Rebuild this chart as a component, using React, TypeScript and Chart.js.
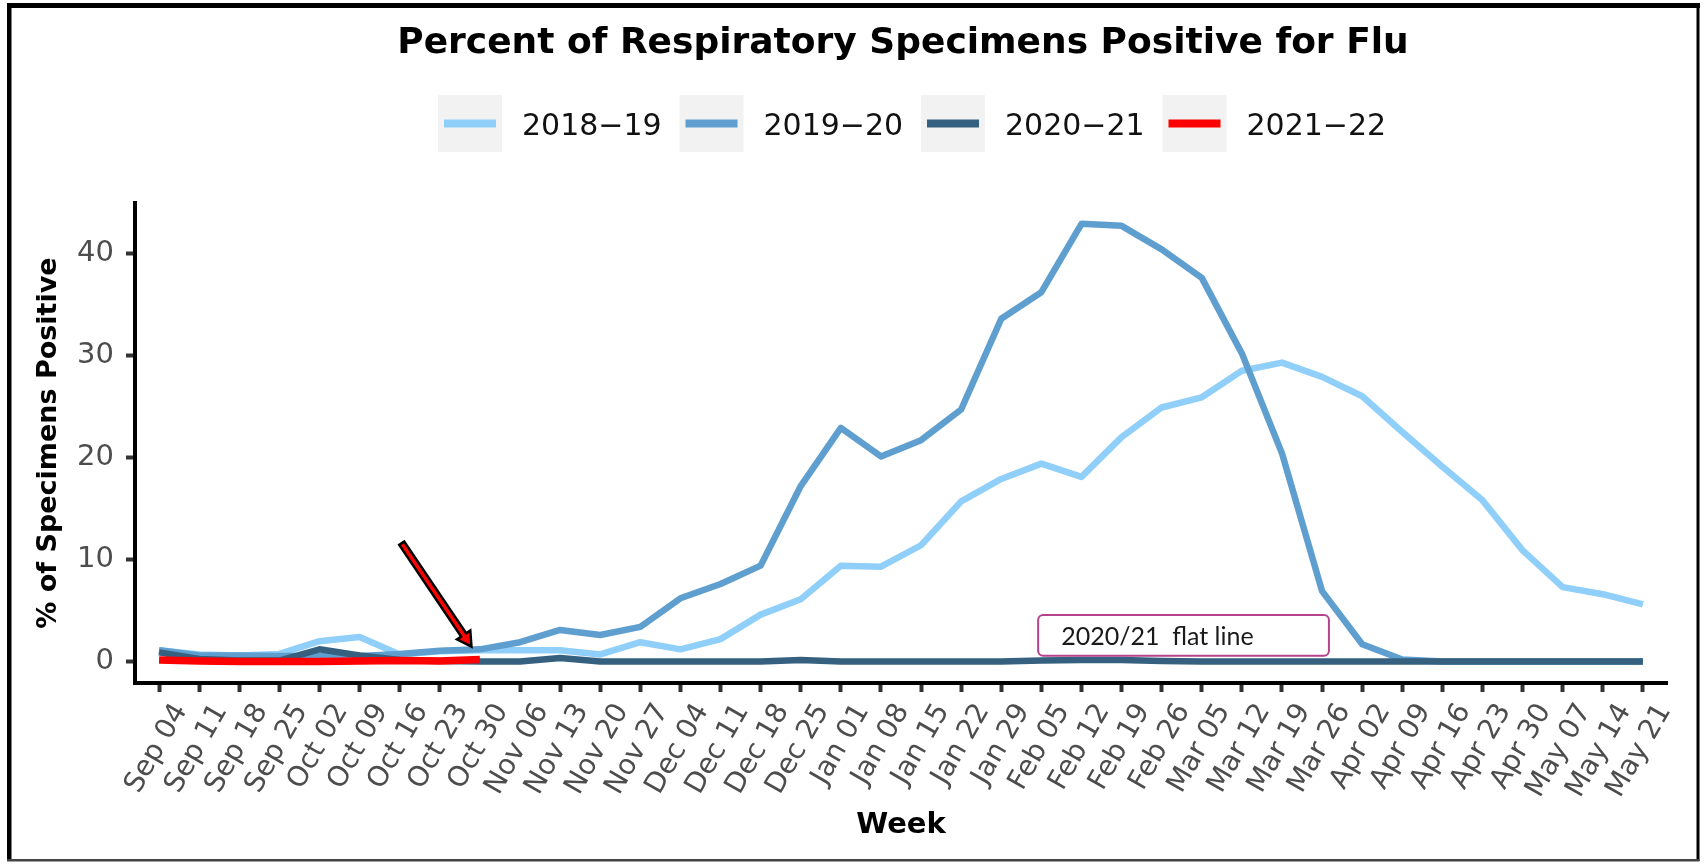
import React, { useEffect, useRef } from "react";
import { Chart, registerables } from "chart.js";

Chart.register(...registerables);

const TITLE = "Percent of Respiratory Specimens Positive for Flu";
const X_TITLE = "Week";
const Y_TITLE = "% of Specimens Positive";

const WEEKS = [
  "Sep 04", "Sep 11", "Sep 18", "Sep 25",
  "Oct 02", "Oct 09", "Oct 16", "Oct 23", "Oct 30",
  "Nov 06", "Nov 13", "Nov 20", "Nov 27",
  "Dec 04", "Dec 11", "Dec 18", "Dec 25",
  "Jan 01", "Jan 08", "Jan 15", "Jan 22", "Jan 29",
  "Feb 05", "Feb 12", "Feb 19", "Feb 26",
  "Mar 05", "Mar 12", "Mar 19", "Mar 26",
  "Apr 02", "Apr 09", "Apr 16", "Apr 23", "Apr 30",
  "May 07", "May 14", "May 21",
];

const Y_TICKS = [0, 10, 20, 30, 40];

const SEASONS = ["2018\u221219", "2019\u221220", "2020\u221221", "2021\u221222"];
const COLORS = ["#8FCFFA", "#5F9FCF", "#35607F", "#FF0000"];

const S2018_19 = [
  1.1, 0.7, 0.6, 0.75,
  2.0, 2.4, 0.7, 1.0, 1.1,
  1.1, 1.1, 0.7, 1.9,
  1.2, 2.2, 4.6, 6.1,
  9.4, 9.3, 11.4, 15.7, 17.9,
  19.4, 18.1, 22.0, 24.9,
  25.9, 28.5, 29.3, 27.9,
  26.0, 22.5, 19.1, 15.8, 10.9,
  7.3, 6.6, 5.6,
];

const S2019_20 = [
  1.1, 0.6, 0.6, 0.55,
  0.55, 0.55, 0.75, 1.05, 1.2,
  1.9, 3.1, 2.6, 3.4,
  6.2, 7.6, 9.4, 17.2,
  22.9, 20.1, 21.7, 24.7, 33.6,
  36.2, 42.9, 42.7, 40.4,
  37.6, 30.2, 20.4, 6.9,
  1.7, 0.2, 0, 0, 0,
  0, 0, 0,
];

const S2020_21 = [
  0.9, 0.25, 0.1, 0.1,
  1.2, 0.6, 0.15, 0.05, 0,
  0, 0.35, 0, 0,
  0, 0, 0, 0.15,
  0, 0, 0, 0, 0,
  0.1, 0.15, 0.15, 0.05,
  0, 0, 0, 0,
  0, 0, 0, 0, 0,
  0, 0, 0,
];

const S2021_22 = [0.15, 0.05, 0, 0, 0, 0.05, 0.1, 0.05, 0.2];

const SERIES = [S2018_19, S2019_20, S2020_21, S2021_22];
const LINE_WIDTHS = [6.5, 6.5, 6.5, 7.5];
const DRAW_ORDER = [3, 2, 1, 0];

// annotation anchors, in data units
const ARROW_FROM = { x: 6.05, y: 11.6 };
const ARROW_TO = { x: 7.79, y: 1.47 };
const NOTE_BOX = { x0: 21.92, x1: 29.17, y0: 4.57, y1: 0.56 };
const NOTE_TEXT = "2020/21  flat line";

const W = 1705;
const H = 864;

const overlayPlugin = {
  id: "overlay",
  beforeDraw(chart: any) {
    const ctx = chart.ctx;
    ctx.save();
    ctx.fillStyle = "#ffffff";
    ctx.fillRect(0, 0, chart.width, chart.height);
    ctx.restore();
  },
  afterDraw(chart: any) {
    const ctx: CanvasRenderingContext2D = chart.ctx;
    const xs = chart.scales.x;
    const ys = chart.scales.y;
    ctx.save();

    // Title
    ctx.fillStyle = "#000000";
    ctx.font = "bold 36px 'DejaVu Sans', sans-serif";
    ctx.textAlign = "center";
    ctx.textBaseline = "alphabetic";
    ctx.fillText(TITLE, 903, 53);

    // Legend
    ctx.textAlign = "left";
    ctx.font = "30px 'DejaVu Sans', sans-serif";
    SEASONS.forEach((name, k) => {
      const bx = 438 + k * 241.5;
      ctx.fillStyle = "#F2F2F2";
      ctx.fillRect(bx, 95, 64, 57);
      ctx.strokeStyle = COLORS[k];
      ctx.lineWidth = 8;
      ctx.lineCap = "butt";
      ctx.beginPath();
      ctx.moveTo(bx + 6, 123.5);
      ctx.lineTo(bx + 58, 123.5);
      ctx.stroke();
      ctx.fillStyle = "#111111";
      ctx.fillText(name, bx + 84, 135);
    });

    // Annotation box
    const bx0 = xs.getPixelForValue(NOTE_BOX.x0);
    const bx1 = xs.getPixelForValue(NOTE_BOX.x1);
    const by0 = ys.getPixelForValue(NOTE_BOX.y0);
    const by1 = ys.getPixelForValue(NOTE_BOX.y1);
    ctx.beginPath();
    (ctx as any).roundRect(bx0, by0, bx1 - bx0, by1 - by0, 5);
    ctx.fillStyle = "#ffffff";
    ctx.fill();
    ctx.strokeStyle = "#B4428C";
    ctx.lineWidth = 2;
    ctx.stroke();
    ctx.fillStyle = "#1a1a1a";
    ctx.font = "25px Lato, 'Open Sans', sans-serif";
    ctx.textBaseline = "alphabetic";
    ctx.fillText(NOTE_TEXT, bx0 + 23, by0 + 30.5);

    // Arrow
    const tx = xs.getPixelForValue(ARROW_FROM.x);
    const ty = ys.getPixelForValue(ARROW_FROM.y);
    const hx = xs.getPixelForValue(ARROW_TO.x);
    const hy = ys.getPixelForValue(ARROW_TO.y);
    const len = Math.hypot(hx - tx, hy - ty);
    const dx = (hx - tx) / len;
    const dy = (hy - ty) / len;
    const nx = -dy;
    const ny = dx;
    const hw = 3;
    const hh = 8;
    const hl = 14;
    const kx = hx - dx * hl;
    const ky = hy - dy * hl;
    ctx.beginPath();
    ctx.moveTo(tx + nx * hw, ty + ny * hw);
    ctx.lineTo(kx + nx * hw, ky + ny * hw);
    ctx.lineTo(kx + nx * hh, ky + ny * hh);
    ctx.lineTo(hx, hy);
    ctx.lineTo(kx - nx * hh, ky - ny * hh);
    ctx.lineTo(kx - nx * hw, ky - ny * hw);
    ctx.lineTo(tx - nx * hw, ty - ny * hw);
    ctx.closePath();
    ctx.fillStyle = "#FF0000";
    ctx.fill();
    ctx.strokeStyle = "#000000";
    ctx.lineWidth = 2.5;
    ctx.lineJoin = "miter";
    ctx.stroke();

    // Outer frame
    ctx.fillStyle = "#000000";
    ctx.fillRect(7, 3, 1693, 5);
    ctx.fillRect(7, 3, 4.5, 858);
    ctx.fillRect(1696.5, 3, 3, 858);
    ctx.fillStyle = "#444444";
    ctx.fillRect(7, 859, 1692.5, 2.5);

    ctx.restore();
  },
};

export default function App() {
  const canvasRef = useRef<HTMLCanvasElement | null>(null);

  useEffect(() => {
    if (!canvasRef.current) return;
    const chart = new Chart(canvasRef.current, {
      type: "line",
      data: {
        datasets: SERIES.map((vals, k) => ({
          label: SEASONS[k],
          data: vals.map((v, i) => ({ x: i, y: v })),
          borderColor: COLORS[k],
          backgroundColor: COLORS[k],
          borderWidth: LINE_WIDTHS[k],
          pointRadius: 0,
          tension: 0,
          fill: false,
          order: DRAW_ORDER[k],
          borderJoinStyle: "round" as const,
          borderCapStyle: "butt" as const,
        })),
      },
      options: {
        animation: false,
        responsive: false,
        devicePixelRatio: 1,
        layout: { padding: { top: 203, right: 38, bottom: 0, left: 0 } },
        plugins: {
          legend: { display: false },
          title: { display: false },
          tooltip: { enabled: false },
        },
        scales: {
          x: {
            type: "linear",
            min: -0.6,
            max: 37.6,
            afterBuildTicks: (s: any) => {
              s.ticks = WEEKS.map((_, i) => ({ value: i }));
            },
            afterFit: (s: any) => {
              s.height = 181;
            },
            grid: {
              display: true,
              drawOnChartArea: false,
              drawTicks: true,
              tickLength: 9,
              tickWidth: 4,
              tickColor: "#333333",
            },
            border: { display: true, color: "#000000", width: 4 },
            ticks: {
              autoSkip: false,
              minRotation: 60,
              maxRotation: 60,
              labelOffset: 22,
              padding: 6,
              color: "#4d4d4d",
              font: { family: "'DejaVu Sans', sans-serif", size: 28 },
              callback: (v: any) => WEEKS[Math.round(Number(v))] ?? "",
            },
            title: {
              display: true,
              text: X_TITLE,
              color: "#000000",
              font: { family: "'DejaVu Sans', sans-serif", size: 29, weight: "bold" },
              padding: { top: 0, bottom: 21 },
            },
          },
          y: {
            type: "linear",
            min: -2.1,
            max: 44.94,
            afterBuildTicks: (s: any) => {
              s.ticks = Y_TICKS.map((v) => ({ value: v }));
            },
            afterFit: (s: any) => {
              s.width = 135;
            },
            grid: {
              display: true,
              drawOnChartArea: false,
              drawTicks: true,
              tickLength: 9,
              tickWidth: 4,
              tickColor: "#333333",
            },
            border: { display: true, color: "#000000", width: 4 },
            ticks: {
              padding: 12,
              color: "#4d4d4d",
              font: { family: "'DejaVu Sans', sans-serif", size: 29 },
              callback: (v: any) => String(v),
            },
            title: {
              display: true,
              text: Y_TITLE,
              color: "#000000",
              font: { family: "'DejaVu Sans', sans-serif", size: 27, weight: "bold" },
              padding: { top: 33, bottom: 0 },
            },
          },
        },
      } as any,
      plugins: [overlayPlugin],
    });
    return () => chart.destroy();
  }, []);

  return (
    <div style={{ position: "absolute", left: 0, top: 0, width: W, height: H, background: "#fff" }}>
      <canvas ref={canvasRef} width={W} height={H} style={{ display: "block", width: W, height: H }} />
    </div>
  );
}
